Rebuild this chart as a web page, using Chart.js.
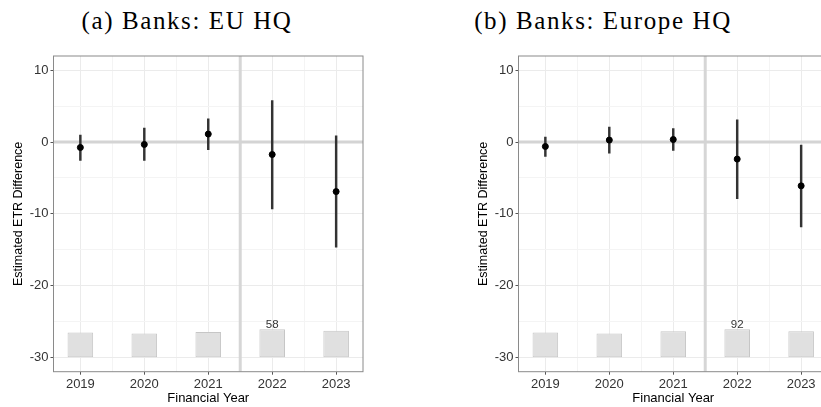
<!DOCTYPE html>
<html>
<head>
<meta charset="utf-8">
<script src="https://cdn.jsdelivr.net/npm/chart.js@4.4.1/dist/chart.umd.min.js"></script>
<style>
  html, body { margin: 0; padding: 0; background: #fff; }
  #wrap { position: relative; width: 821px; height: 407px; overflow: hidden; }
  .panel { position: absolute; top: 0; width: 400px; height: 407px; }
  .ttl { position: absolute; top: 8px; font-family: "Liberation Serif", serif; font-size: 25px; letter-spacing: 1.6px; line-height: 1; color: #000; white-space: nowrap; transform: translateX(-50%); }
</style>
</head>
<body>
<div id="wrap">
  <div class="ttl" style="left:187px">(a) Banks: EU HQ</div>
  <div class="ttl" style="left:603px">(b) Banks: Europe HQ</div>
  <div class="panel" style="left:0px"><canvas id="chartEU" width="400" height="407"></canvas></div>
  <div class="panel" style="left:465px"><canvas id="chartEurope" width="400" height="407"></canvas></div>
</div>
<script>
// financial years on the x axis
const years = [2019, 2020, 2021, 2022, 2023];
const xTicks = [2019, 2019.5, 2020, 2020.5, 2021, 2021.5, 2022, 2022.5, 2023];
const yTicks = [-30, -25, -20, -15, -10, -5, 0, 5, 10];
const xMin = 2018.58, xMax = 2023.42;
const yMin = -32, yMax = 12;
const treatYear = 2021.5;
const barBase = -30;

// (a) EU HQ
const euEst = [-0.75, -0.33, 1.12, -1.73, -6.9];
const euLo = [-2.57, -2.57, -1.07, -9.3, -14.66];
const euHi = [0.98, 1.95, 3.25, 5.8, 0.88];
const euBarTop = [-26.54, -26.68, -26.45, -26.08, -26.31];
const euBarLabel = ['', '', '', '58', ''];

// (b) Europe HQ
const europeEst = [-0.61, 0.28, 0.36, -2.37, -6.1];
const europeLo = [-2.0, -1.54, -1.17, -7.87, -11.83];
const europeHi = [0.7, 2.1, 1.9, 3.11, -0.42];
const europeBarTop = [-26.54, -26.68, -26.35, -26.08, -26.35];
const europeBarLabel = ['', '', '', '92', ''];

const axisFont = { family: '"Liberation Sans", Arial, sans-serif', size: 13 };

const frame = {
  id: 'frame',
  afterDraw(chart) {
    const a = chart.chartArea, c = chart.ctx;
    c.save();
    c.strokeStyle = '#8a8a8a';
    c.lineWidth = 1;
    c.strokeRect(a.left, a.top, a.right - a.left, a.bottom - a.top);
    c.restore();
  }
};

const barText = {
  id: 'barText',
  afterDatasetsDraw(chart, args, opts) {
    const c = chart.ctx, xs = chart.scales.x, ys = chart.scales.y;
    c.save();
    c.font = '11.5px "Liberation Sans", Arial, sans-serif';
    c.fillStyle = '#333';
    c.textAlign = 'center';
    c.textBaseline = 'alphabetic';
    opts.labels.forEach((t, i) => {
      if (!t) return;
      c.fillText(t, xs.getPixelForValue(years[i]), ys.getPixelForValue(opts.tops[i]) - 1.5);
    });
    c.restore();
  }
};

function makeChart(id, est, lo, hi, barTop, labels) {
  new Chart(document.getElementById(id), {
    type: 'bar',
    data: {
      datasets: [
        {
          type: 'scatter',
          data: years.map((x, i) => ({ x: x, y: est[i] })),
          backgroundColor: '#000',
          borderColor: '#000',
          pointRadius: 3,
          order: 0
        },
        {
          data: years.map((x, i) => ({ x: x, y: [lo[i], hi[i]] })),
          backgroundColor: '#333',
          borderWidth: 0,
          barThickness: 1.8,
          grouped: false,
          order: 1
        },
        {
          data: years.map((x, i) => ({ x: x, y: [barBase, barTop[i]] })),
          backgroundColor: '#e0e0e0',
          borderColor: '#c6c6c6',
          borderWidth: 1,
          borderSkipped: false,
          barPercentage: 0.8,
          categoryPercentage: 1,
          grouped: false,
          order: 2
        },
        {
          type: 'line',
          data: [{ x: xMin, y: 0 }, { x: xMax, y: 0 }],
          borderColor: '#d4d4d4',
          borderWidth: 3,
          pointRadius: 0,
          order: 3
        },
        {
          type: 'line',
          data: [{ x: treatYear, y: yMin }, { x: treatYear, y: yMax }],
          borderColor: '#d6d6d6',
          borderWidth: 3,
          pointRadius: 0,
          order: 3
        }
      ]
    },
    options: {
      responsive: false,
      animation: false,
      events: [],
      layout: { padding: { top: 56, left: 0, right: 37, bottom: 0 } },
      plugins: {
        legend: { display: false },
        tooltip: { enabled: false },
        barText: { labels: labels, tops: barTop }
      },
      scales: {
        x: {
          type: 'linear',
          min: xMin,
          max: xMax,
          offset: false,
          afterBuildTicks: s => { s.ticks = xTicks.map(v => ({ value: v })); },
          afterFit: s => { s.height = 35.3; },
          grid: {
            offset: false,
            color: c => Number.isInteger(c.tick && c.tick.value) ? '#ebebeb' : '#f4f4f4',
            tickColor: c => Number.isInteger(c.tick && c.tick.value) ? '#555' : 'rgba(0,0,0,0)',
            tickLength: 3
          },
          border: { display: false },
          ticks: {
            autoSkip: false,
            maxRotation: 0,
            padding: 2,
            color: '#333',
            font: axisFont,
            callback: v => Number.isInteger(v) ? String(v) : ''
          },
          title: {
            display: true,
            text: 'Financial Year',
            color: '#000',
            font: axisFont,
            padding: { top: 0, bottom: 1 }
          }
        },
        y: {
          min: yMin,
          max: yMax,
          afterBuildTicks: s => { s.ticks = yTicks.map(v => ({ value: v })); },
          afterFit: s => { s.width = 53.5; },
          grid: {
            color: c => (c.tick && c.tick.value % 10 === 0) ? '#ebebeb' : '#f4f4f4',
            tickColor: c => (c.tick && c.tick.value % 10 === 0) ? '#555' : 'rgba(0,0,0,0)',
            tickLength: 3
          },
          border: { display: false },
          ticks: {
            padding: 2,
            color: '#333',
            font: axisFont,
            callback: v => v % 10 === 0 ? String(v) : ''
          },
          title: {
            display: true,
            text: 'Estimated ETR Difference',
            color: '#000',
            font: { family: '"Liberation Sans", Arial, sans-serif', size: 12.5 },
            padding: { top: 10.7, bottom: 0 }
          }
        }
      }
    },
    plugins: [frame, barText]
  });
}

makeChart('chartEU', euEst, euLo, euHi, euBarTop, euBarLabel);
makeChart('chartEurope', europeEst, europeLo, europeHi, europeBarTop, europeBarLabel);
</script>
</body>
</html>
